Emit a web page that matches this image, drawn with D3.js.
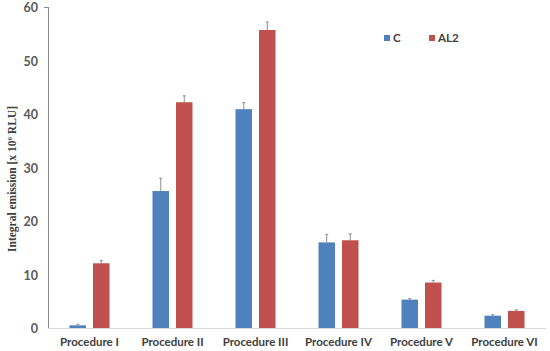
<!DOCTYPE html>
<html>
<head>
<meta charset="utf-8">
<script src="https://cdn.jsdelivr.net/npm/d3@7"></script>
<style>
body{margin:0;background:#fff;}
</style>
</head>
<body>
<div id="chart"></div>
<script>
var categories=["Procedure I","Procedure II","Procedure III","Procedure IV","Procedure V","Procedure VI"];
var seriesNames=["C","AL2"];
var valuesC=[0.5,25.6,40.9,16.0,5.3,2.3];
var errC=[0.2,2.4,1.2,1.5,0.2,0.2];
var valuesAL2=[12.1,42.2,55.7,16.4,8.5,3.2];
var errAL2=[0.5,1.2,1.5,1.2,0.4,0.2];
var yTicks=[0,10,20,30,40,50,60];
var colors=["#4F81BD","#C0504D"];

var width=550,height=351;
var margin={left:48,right:4,top:7,bottom:23};
var labelFont="Lato,Calibri,sans-serif";

var svg=d3.select("#chart").append("svg")
  .attr("width",width).attr("height",height);

var x=d3.scaleBand().domain(categories).range([margin.left,width-margin.right]);
var y=d3.scaleLinear().domain([0,60]).range([height-margin.bottom,margin.top]);

var barW=16.5,gap=7;

// axes
svg.append("line").attr("x1",margin.left+0.5).attr("x2",margin.left+0.5)
  .attr("y1",y(60)).attr("y2",y(0)).attr("stroke","#8c8c8c").attr("stroke-width",1);
svg.append("line").attr("x1",margin.left-4).attr("x2",margin.left)
  .attr("y1",y(60)+0.5).attr("y2",y(60)+0.5).attr("stroke","#8c8c8c").attr("stroke-width",1);
svg.append("line").attr("x1",margin.left).attr("x2",width-margin.right)
  .attr("y1",y(0)+0.5).attr("y2",y(0)+0.5).attr("stroke","#d9d9d9").attr("stroke-width",1);

svg.selectAll(".ytick").data(yTicks).enter().append("text")
  .attr("x",38).attr("y",function(d){return y(d)+1;}).attr("dy","0.35em")
  .attr("text-anchor","end")
  .style("font-family",labelFont).style("font-weight","bold")
  .style("font-size","12.5px").attr("fill","#595959")
  .text(function(d){return d;});

svg.selectAll(".xlab").data(categories).enter().append("text")
  .attr("x",function(d){return x(d)+x.bandwidth()/2;}).attr("y",height-5)
  .attr("text-anchor","middle")
  .style("font-family",labelFont).style("font-weight","bold")
  .style("font-size","11.5px").attr("fill","#404040")
  .text(function(d){return d;});

svg.append("text")
  .attr("transform","translate(16,179) rotate(-90)")
  .attr("text-anchor","middle")
  .style("font-family","'Liberation Serif','Times New Roman',serif").style("font-weight","bold")
  .style("font-size","11.5px").attr("fill","#404040")
  .html("Integral emission [x 10<tspan dy='-4' font-size='7px'>6</tspan><tspan dy='4'> RLU]</tspan>");

var series=[{vals:valuesC,errs:errC},{vals:valuesAL2,errs:errAL2}];
series.forEach(function(s,si){
  var off=si===0?-(gap/2+barW):gap/2;
  var g=svg.append("g");
  g.selectAll("rect").data(categories).enter().append("rect")
    .attr("x",function(d){return x(d)+x.bandwidth()/2+off;})
    .attr("y",function(d,i){return y(s.vals[i]);})
    .attr("width",barW)
    .attr("height",function(d,i){return y(0)-y(s.vals[i]);})
    .attr("fill",colors[si]);
  g.selectAll("line.err").data(categories).enter().append("line")
    .attr("x1",function(d){return x(d)+x.bandwidth()/2+off+barW/2;})
    .attr("x2",function(d){return x(d)+x.bandwidth()/2+off+barW/2;})
    .attr("y1",function(d,i){return y(s.vals[i]);})
    .attr("y2",function(d,i){return y(s.vals[i]+s.errs[i]);})
    .attr("stroke","#8c8c8c").attr("stroke-width",1);
  g.selectAll("line.cap").data(categories).enter().append("line")
    .attr("x1",function(d){return x(d)+x.bandwidth()/2+off+barW/2-1.5;})
    .attr("x2",function(d){return x(d)+x.bandwidth()/2+off+barW/2+1.5;})
    .attr("y1",function(d,i){return y(s.vals[i]+s.errs[i]);})
    .attr("y2",function(d,i){return y(s.vals[i]+s.errs[i]);})
    .attr("stroke","#8c8c8c").attr("stroke-width",1);
});

// legend
var legX=[384,429];
seriesNames.forEach(function(n,i){
  svg.append("rect").attr("x",legX[i]).attr("y",35).attr("width",6).attr("height",6).attr("fill",colors[i]);
  svg.append("text").attr("x",legX[i]+9).attr("y",38).attr("dy","0.35em")
    .style("font-family",labelFont).style("font-weight","bold")
    .style("font-size","11.5px").attr("fill","#404040").text(n);
});
</script>
</body>
</html>
